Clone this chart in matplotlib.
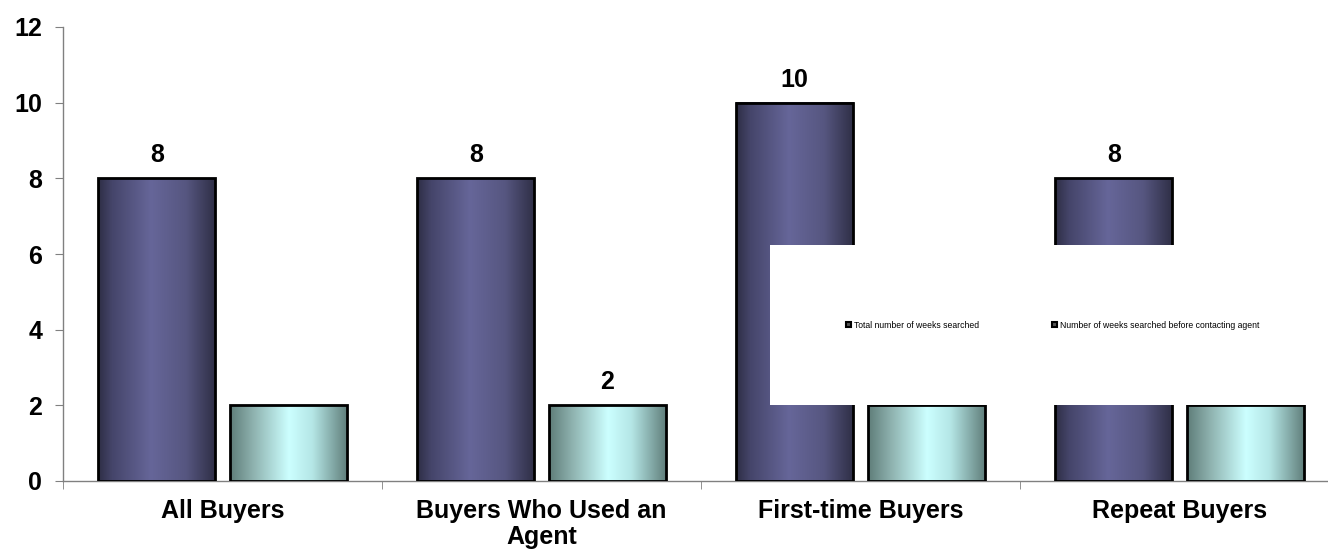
import numpy as np
import matplotlib
matplotlib.use("Agg")
import matplotlib.pyplot as plt
from matplotlib.colors import LinearSegmentedColormap
from matplotlib.patches import Patch, Rectangle

plt.rcParams['font.family'] = ['Liberation Sans', 'DejaVu Sans']

categories = ["All Buyers", "Buyers Who Used an\nAgent", "First-time Buyers", "Repeat Buyers"]
series_names = ["Total number of weeks searched", "Number of weeks searched before contacting agent"]
total_weeks = [8, 8, 10, 8]
before_agent = [2, 2, 2, 2]
# which bars carry a value label in the original
label_total = [True, True, True, True]
label_before = [False, True, False, False]

purple = LinearSegmentedColormap.from_list(
    "purple", [(0, "#2e2e45"), (0.12, "#45456a"), (0.45, "#666699"), (0.75, "#565680"), (1, "#2e2e45")])
cyan = LinearSegmentedColormap.from_list(
    "cyan", [(0, "#5f7d79"), (0.2, "#8fb3b0"), (0.5, "#ccffff"), (0.7, "#b5e6e6"), (1, "#5f7d79")])

fig = plt.figure(figsize=(13.28, 5.54), dpi=100)
ax = fig.add_axes([63 / 1328, 73 / 554, 1276 / 1328, 454 / 554])

x = np.arange(len(categories))
w = 0.367
off = 0.206
grad = np.linspace(0, 1, 256).reshape(1, -1)


def gradient_bars(xpos, vals, cmap):
    bars = ax.bar(xpos, vals, width=w, facecolor="none", edgecolor="black", linewidth=2, zorder=3)
    for b in bars:
        x0, x1 = b.get_x(), b.get_x() + b.get_width()
        ax.imshow(grad, cmap=cmap, extent=(x0, x1, 0, b.get_height()), aspect="auto", zorder=2)
    return bars


b1 = gradient_bars(x - off, total_weeks, purple)
b2 = gradient_bars(x + off, before_agent, cyan)

for bars, vals, show in [(b1, total_weeks, label_total), (b2, before_agent, label_before)]:
    for b, v, s in zip(bars, vals, show):
        if s:
            ax.annotate(str(v), (b.get_x() + b.get_width() / 2, v), xytext=(0, 8),
                        textcoords="offset points", ha="center", va="bottom",
                        fontsize=18, fontweight="bold")

ax.set_xlim(-0.5, 3.5)
ax.set_ylim(0, 12)
ax.set_yticks(range(0, 13, 2))
ax.set_xticks(x)
ax.set_xticklabels(categories, fontsize=18, fontweight="bold", linespacing=1.1)
ax.set_xticks(np.arange(-0.5, 4, 1), minor=True)
ax.tick_params(axis="x", which="major", length=0, pad=13)
ax.tick_params(axis="x", which="minor", length=6, color="#808080", direction="out")
ax.tick_params(axis="y", length=6, color="#808080", labelsize=18, pad=9)
for lab in ax.get_yticklabels():
    lab.set_fontweight("bold")

for s in ["top", "right"]:
    ax.spines[s].set_visible(False)
for s in ["left", "bottom"]:
    ax.spines[s].set_color("#808080")
    ax.spines[s].set_linewidth(1)

# the big white legend area
fig.patches.append(Rectangle((770 / 1328, 149 / 554), 600 / 1328, 160 / 554,
                             transform=fig.transFigure, facecolor="white", edgecolor="none", zorder=4))
handles = [Patch(facecolor="#555", edgecolor="black", linewidth=1.5),
           Patch(facecolor="#555", edgecolor="black", linewidth=1.5)]
leg = fig.legend(handles, series_names, loc="center left", bbox_to_anchor=(846 / 1328, 229 / 554),
                 ncol=2, frameon=False, fontsize=6.25, handlelength=0.6, handleheight=0.6,
                 handletextpad=0.3, columnspacing=8.4, borderpad=0, borderaxespad=0)
leg.set_zorder(5)

fig.savefig("out.png", dpi=100)
